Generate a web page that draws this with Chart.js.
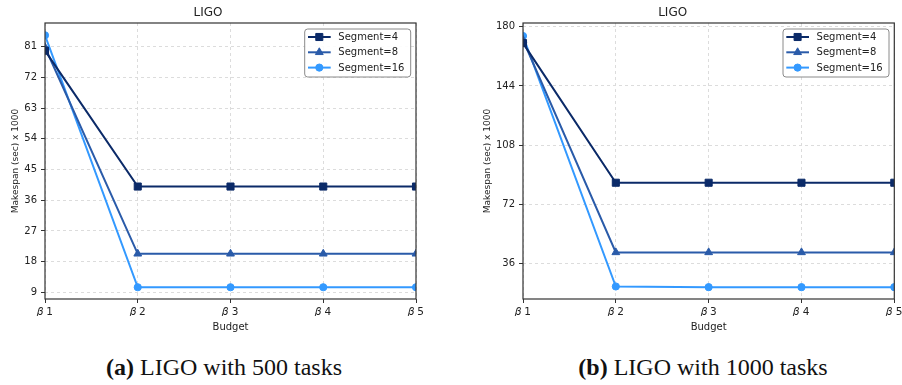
<!DOCTYPE html>
<html>
<head>
<meta charset="utf-8">
<script src="https://cdn.jsdelivr.net/npm/chart.js@4.4.1/dist/chart.umd.min.js"></script>
<style>
  body { margin: 0; background: #fff; width: 902px; height: 385px; position: relative; overflow: hidden; }
  .panel { position: absolute; top: 0; width: 451px; height: 340px; }
  .cap { position: absolute; top: 354px; font-family: "Liberation Serif", serif; font-size: 24px; color: #111;
         white-space: nowrap; transform: translateX(-50%); }
</style>
</head>
<body>
<div class="panel" style="left:0"><canvas id="chart500"></canvas></div>
<div class="panel" style="left:451px"><canvas id="chart1000"></canvas></div>
<div class="cap" style="left:224px"><b>(a)</b> LIGO with 500 tasks</div>
<div class="cap" style="left:703px"><b>(b)</b> LIGO with 1000 tasks</div>
<script>
// Budget levels on the x axis (math italic beta)
const budgets = ['\u{1D6FD} 1', '\u{1D6FD} 2', '\u{1D6FD} 3', '\u{1D6FD} 4', '\u{1D6FD} 5'];
const segmentNames = ['Segment=4', 'Segment=8', 'Segment=16'];

// LIGO, 500 tasks (makespan in sec x 1000)
const seg4_500 = [79.8, 40.0, 40.0, 40.0, 40.0];
const seg8_500 = [80.8, 20.3, 20.3, 20.3, 20.3];
const seg16_500 = [84.3, 10.5, 10.5, 10.5, 10.5];
const yTicks500 = [9, 18, 27, 36, 45, 54, 63, 72, 81];

// LIGO, 1000 tasks
const seg4_1000 = [170.0, 85.2, 85.2, 85.2, 85.2];
const seg8_1000 = [171.9, 42.9, 42.9, 42.9, 42.9];
const seg16_1000 = [174.3, 22.2, 21.8, 21.8, 21.8];
const yTicks1000 = [36, 72, 108, 144, 180];

const FONT = 'DejaVu Sans';
const colors = ['#0b2a68', '#2a5ba9', '#3399ff'];
const markers = [
    { style: 'rect', radius: 5 },
    { style: 'triangle', radius: 4.5 },
    { style: 'circle', radius: 3.6 }
];

// frame around the plot + matplotlib-like legend box inside the plot
const frameLegend = {
    id: 'frameLegend',
    afterDraw(chart) {
        const ctx = chart.ctx;
        const a = chart.chartArea;
        ctx.save();
        ctx.strokeStyle = '#333';
        ctx.lineWidth = 1.2;
        ctx.setLineDash([]);
        ctx.strokeRect(a.left, a.top, a.right - a.left, a.bottom - a.top);

        const bw = 106, bh = 48;
        const bx = a.right - 5.3 - bw, by = a.top + 6;
        ctx.beginPath();
        ctx.roundRect(bx, by, bw, bh, 3);
        ctx.fillStyle = 'rgba(255,255,255,0.9)';
        ctx.fill();
        ctx.strokeStyle = '#8a8a8a';
        ctx.lineWidth = 1;
        ctx.stroke();

        ctx.font = '10px ' + FONT;
        ctx.textBaseline = 'middle';
        chart.data.datasets.forEach((ds, i) => {
            const y = by + 8 + i * 15.3;
            ctx.strokeStyle = ds.borderColor;
            ctx.lineWidth = ds.borderWidth;
            ctx.beginPath();
            ctx.moveTo(bx + 3.3, y);
            ctx.lineTo(bx + 26, y);
            ctx.stroke();
            ctx.fillStyle = ds.borderColor;
            ctx.lineWidth = 1;
            Chart.helpers.drawPoint(ctx, {
                pointStyle: ds.pointStyle, radius: ds.pointRadius, rotation: 0, borderWidth: 1
            }, bx + 14.6, y);
            ctx.fillStyle = '#222';
            ctx.fillText(ds.label, bx + 33.6, y + 0.5);
        });
        ctx.restore();
    }
};

function makeDataset(i, values) {
    return {
        label: segmentNames[i],
        data: values,
        borderColor: colors[i],
        backgroundColor: colors[i],
        pointBackgroundColor: colors[i],
        pointBorderColor: colors[i],
        borderWidth: 2,
        pointStyle: markers[i].style,
        pointRadius: markers[i].radius,
        pointBorderWidth: 1,
        tension: 0,
        clip: 0
    };
}

function makeChart(id, series, yMin, yMax, yTicks, axisWidth, padRight, yTitlePad) {
    const ctx = document.getElementById(id).getContext('2d');
    return new Chart(ctx, {
        type: 'line',
        data: {
            labels: budgets,
            datasets: series.map((values, i) => makeDataset(i, values))
        },
        options: {
            responsive: true,
            maintainAspectRatio: false,
            animation: false,
            layout: { padding: { left: 0, right: padRight, top: 0, bottom: 0 } },
            plugins: {
                legend: { display: false },
                tooltip: { enabled: false },
                title: {
                    display: true,
                    text: 'LIGO',
                    color: '#222',
                    font: { family: FONT, size: 12, weight: 'normal' },
                    padding: { top: 6, bottom: 2.6 }
                }
            },
            scales: {
                x: {
                    type: 'category',
                    offset: false,
                    grid: { color: '#dcdcdc', offset: false, tickLength: 4, tickColor: '#333', tickBorderDash: [] },
                    border: { display: false, dash: [3, 3] },
                    ticks: { color: '#222', padding: 3, font: { family: FONT, size: 10.5 } },
                    title: {
                        display: true, text: 'Budget', color: '#222',
                        font: { family: FONT, size: 10 }, padding: { top: 0, bottom: 7 }
                    },
                    afterFit: scale => {
                        scale.height = 41;
                        scale.paddingLeft = 0;
                        scale.paddingRight = 0;
                    }
                },
                y: {
                    min: yMin,
                    max: yMax,
                    grid: { color: '#dcdcdc', tickLength: 4, tickColor: '#333', tickBorderDash: [] },
                    border: { display: false, dash: [3, 3] },
                    ticks: { color: '#222', padding: 4, font: { family: FONT, size: 10 } },
                    afterBuildTicks: axis => { axis.ticks = yTicks.map(v => ({ value: v })); },
                    title: {
                        display: true, text: 'Makespan (sec) x 1000', color: '#222',
                        font: { family: FONT, size: 9 }, padding: { top: yTitlePad, bottom: 0 }
                    },
                    afterFit: scale => { scale.width = axisWidth; }
                }
            }
        },
        plugins: [frameLegend]
    });
}

makeChart('chart500', [seg4_500, seg8_500, seg16_500], 7.06, 87.9, yTicks500, 45, 35, 10);
makeChart('chart1000', [seg4_1000, seg8_1000, seg16_1000], 14.6, 182.2, yTicks1000, 72, 7.7, 31);
</script>
</body>
</html>
